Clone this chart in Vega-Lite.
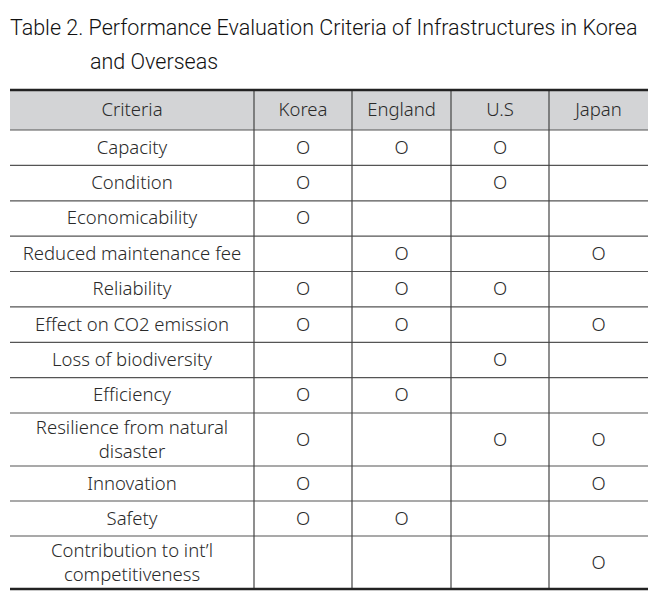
{
  "$schema": "https://vega.github.io/schema/vega-lite/v6.json",
  "width": 638,
  "height": 500,
  "autosize": {"type": "none"},
  "padding": {"left": 10, "top": 90, "right": 20, "bottom": 1},
  "background": "white",
  "config": {"view": {"stroke": null}},
  "title": {
    "text": "Table 2. Performance Evaluation Criteria of Infrastructures in Korea",
    "subtitle": "and Overseas",
    "anchor": "start",
    "frame": "group",
    "font": "Roboto",
    "fontSize": 21.5,
    "fontWeight": 300,
    "color": "#111",
    "subtitleFont": "Roboto",
    "subtitleFontSize": 21.5,
    "subtitleFontWeight": 300,
    "subtitleColor": "#111",
    "subtitlePadding": 13,
    "offset": 15,
    "encode": {"subtitle": {"update": {"dx": {"value": 80}}}}
  },
  "datasets": {
    "columns": [
      {"col": 0, "name": "Criteria"},
      {"col": 1, "name": "Korea"},
      {"col": 2, "name": "England"},
      {"col": 3, "name": "U.S"},
      {"col": 4, "name": "Japan"}
    ],
    "criteria": [
      {"row": 1, "criterion": "Capacity", "Korea": "O", "England": "O", "US": "O", "Japan": ""},
      {"row": 2, "criterion": "Condition", "Korea": "O", "England": "", "US": "O", "Japan": ""},
      {"row": 3, "criterion": "Economicability", "Korea": "O", "England": "", "US": "", "Japan": ""},
      {"row": 4, "criterion": "Reduced maintenance fee", "Korea": "", "England": "O", "US": "", "Japan": "O"},
      {"row": 5, "criterion": "Reliability", "Korea": "O", "England": "O", "US": "O", "Japan": ""},
      {"row": 6, "criterion": "Effect on CO2 emission", "Korea": "O", "England": "O", "US": "", "Japan": "O"},
      {"row": 7, "criterion": "Loss of biodiversity", "Korea": "", "England": "", "US": "O", "Japan": ""},
      {"row": 8, "criterion": "Efficiency", "Korea": "O", "England": "O", "US": "", "Japan": ""},
      {"row": 9, "criterion": "Resilience from natural\ndisaster", "Korea": "O", "England": "", "US": "O", "Japan": "O"},
      {"row": 10, "criterion": "Innovation", "Korea": "O", "England": "", "US": "", "Japan": "O"},
      {"row": 11, "criterion": "Safety", "Korea": "O", "England": "O", "US": "", "Japan": ""},
      {"row": 12, "criterion": "Contribution to int’l\ncompetitiveness", "Korea": "", "England": "", "US": "", "Japan": "O"}
    ],
    "countries": [
      {"country": "Korea", "col": 1},
      {"country": "England", "col": 2},
      {"country": "US", "col": 3},
      {"country": "Japan", "col": 4}
    ]
  },
  "resolve": {"scale": {"x": "shared", "y": "shared"}},
  "layer": [
    {
      "data": {"name": "columns"},
      "transform": [{"calculate": "datum.col + 1", "as": "colEnd"}],
      "mark": {"type": "rect", "fill": "#d3d4d6", "stroke": null},
      "encoding": {
        "x": {"field": "col", "type": "quantitative", "scale": {"domain": [0, 1, 2, 3, 4, 5], "range": [0, 244, 342, 441, 539, 638], "nice": false, "zero": false}, "axis": null},
        "x2": {"field": "colEnd"},
        "y": {"datum": 0, "type": "quantitative", "scale": {"domain": [0, 1, 2, 3, 4, 5, 6, 7, 8, 9, 10, 11, 12, 13], "range": [0, 40, 75.4, 110.8, 146.1, 181.5, 216.9, 252.3, 287.6, 323, 376, 411, 446, 499], "nice": false, "zero": false}, "axis": null},
        "y2": {"datum": 1}
      }
    },
    {
      "data": {"name": "criteria"},
      "mark": {"type": "rule", "stroke": "#555", "strokeWidth": 1.2},
      "encoding": {
        "y": {"field": "row", "type": "quantitative"},
        "x": {"datum": 0, "type": "quantitative"},
        "x2": {"datum": 5}
      }
    },
    {
      "data": {"name": "columns"},
      "transform": [{"filter": "datum.col > 0"}],
      "mark": {"type": "rule", "stroke": "#444", "strokeWidth": 1.2},
      "encoding": {
        "x": {"field": "col", "type": "quantitative"},
        "y": {"datum": 0, "type": "quantitative"},
        "y2": {"datum": 13}
      }
    },
    {
      "data": {"values": [{"edge": "top", "line": 0}, {"edge": "bottom", "line": 13}]},
      "mark": {"type": "rule", "stroke": "#222", "strokeWidth": 2.6},
      "encoding": {
        "y": {"field": "line", "type": "quantitative"},
        "x": {"datum": 0, "type": "quantitative"},
        "x2": {"datum": 5}
      }
    },
    {
      "data": {"name": "columns"},
      "transform": [{"calculate": "datum.col + 0.5", "as": "colMid"}],
      "mark": {"type": "text", "font": "Noto Sans", "fontSize": 18.5, "fontWeight": 300, "color": "#2a2a2a", "align": "center", "baseline": "middle"},
      "encoding": {
        "x": {"field": "colMid", "type": "quantitative"},
        "y": {"datum": 0.5, "type": "quantitative"},
        "text": {"field": "name"}
      }
    },
    {
      "data": {"name": "criteria"},
      "transform": [
        {"calculate": "datum.row + 0.5 - (length(split(datum.criterion, '\\n')) - 1) * 0.2264", "as": "rowMid"}
      ],
      "mark": {"type": "text", "font": "Noto Sans", "fontSize": 18.5, "fontWeight": 300, "color": "#2a2a2a", "align": "center", "baseline": "middle", "lineBreak": "\n", "lineHeight": 24},
      "encoding": {
        "x": {"datum": 0.5, "type": "quantitative"},
        "y": {"field": "rowMid", "type": "quantitative"},
        "text": {"field": "criterion"}
      }
    },
    {
      "data": {"name": "criteria"},
      "transform": [
        {"fold": ["Korea", "England", "US", "Japan"], "as": ["country", "mark"]},
        {"filter": "datum.mark === 'O'"},
        {"lookup": "country", "from": {"data": {"name": "countries"}, "key": "country", "fields": ["col"]}},
        {"calculate": "datum.col + 0.5", "as": "colMid"},
        {"calculate": "datum.row + 0.5", "as": "rowMid"}
      ],
      "mark": {"type": "text", "font": "Noto Sans", "fontSize": 18.5, "fontWeight": 300, "color": "#2a2a2a", "align": "center", "baseline": "middle"},
      "encoding": {
        "x": {"field": "colMid", "type": "quantitative"},
        "y": {"field": "rowMid", "type": "quantitative"},
        "text": {"field": "mark"}
      }
    }
  ]
}
